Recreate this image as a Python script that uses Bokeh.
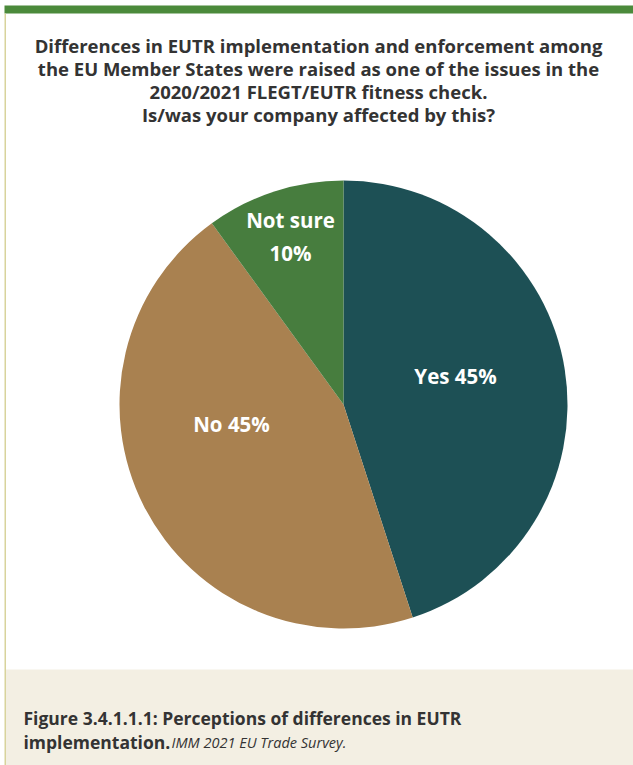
import math
from bokeh.plotting import figure
from bokeh.models import Range1d
from bokeh.core.properties import value
from bokeh.embed import file_html
from bokeh.resources import INLINE

# Data
categories = ["Yes", "No", "Not sure"]
shares = [45, 45, 10]
labels = ["Yes 45%", "No 45%", "Not sure\n10%"]
colors = ["#1d5055", "#a98150", "#477d3e"]

title_lines = [
    "Differences in EUTR implementation and enforcement among",
    "the EU Member States were raised as one of the issues in the",
    "2020/2021 FLEGT/EUTR fitness check.",
    "Is/was your company affected by this?",
]
caption_bold_1 = "Figure 3.4.1.1.1: Perceptions of differences in EUTR"
caption_bold_2 = "implementation."
caption_italic = "IMM 2021 EU Trade Survey."

W, H = 633, 765
FONT = "Open Sans"

p = figure(width=W, height=H, output_backend="svg", toolbar_location=None,
           x_range=Range1d(0, W), y_range=Range1d(H, 0), min_border=0,
           match_aspect=False)
p.axis.visible = False
p.grid.visible = False
p.outline_line_color = None
p.background_fill_color = "white"
p.border_fill_color = "white"

# frame decorations
p.quad(left=[4], right=[W], top=[5], bottom=[13], color="#4b8a3b", line_color=None)
p.quad(left=[4], right=[5.5], top=[13], bottom=[H], color="#d8d39c", line_color=None)
p.quad(left=[5.5], right=[W], top=[669], bottom=[H], color="#f3efe3", line_color=None)

# title
for i, t in enumerate(title_lines):
    p.text(x=[318], y=[45 + i * 23], text=[t], text_font=value(FONT),
           text_font_style="bold", text_font_size="18.5px", text_color="#333333",
           text_align="center", text_baseline="middle")

# pie: angles are in screen space; start at 12 o'clock, go clockwise
cx, cy, r = 343, 404, 224
total = sum(shares)
start = math.pi / 2
starts, ends = [], []
for s in shares:
    starts.append(start)
    start -= 2 * math.pi * s / total
    ends.append(start)
p.wedge(x=cx, y=cy, radius=r, start_angle=starts, end_angle=ends,
        color=colors, line_color=None, direction="clock")

# labels
LS = "20.5px"
p.text(x=[455], y=[375], text=[labels[0]], text_font=value(FONT), text_font_style="bold",
       text_font_size=LS, text_color="white", text_align="center", text_baseline="middle")
p.text(x=[231], y=[423], text=[labels[1]], text_font=value(FONT), text_font_style="bold",
       text_font_size=LS, text_color="white", text_align="center", text_baseline="middle")
p.text(x=[290, 290], y=[219, 252], text=labels[2].split("\n"), text_font=value(FONT),
       text_font_style="bold", text_font_size=LS, text_color="white",
       text_align="center", text_baseline="middle")

# caption
p.text(x=[23], y=[717], text=[caption_bold_1], text_font=value(FONT), text_font_style="bold",
       text_font_size="17.5px", text_color="#333333", text_align="left", text_baseline="middle")
p.text(x=[23], y=[741], text=[caption_bold_2], text_font=value(FONT), text_font_style="bold",
       text_font_size="17.5px", text_color="#333333", text_align="left", text_baseline="middle")
p.text(x=[171], y=[742], text=[caption_italic], text_font=value(FONT), text_font_style="italic",
       text_font_size="14.5px", text_color="#333333", text_align="left", text_baseline="middle")

open("out.html", "w").write(file_html(p, INLINE))
